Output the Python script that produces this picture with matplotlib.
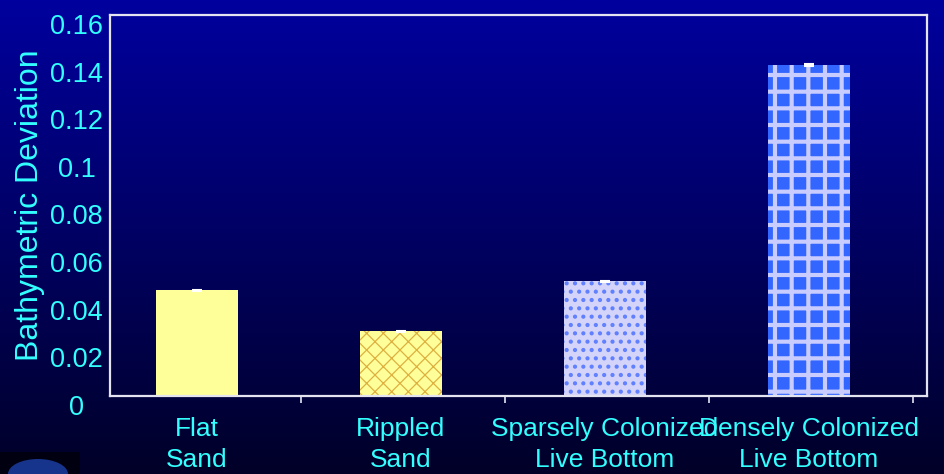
import numpy as np
import matplotlib
matplotlib.use("Agg")
import matplotlib.pyplot as plt
import matplotlib.transforms as mtransforms
from matplotlib.patches import Rectangle, Ellipse

categories = ["Flat\nSand", "Rippled\nSand", "Sparsely Colonized\nLive Bottom", "Densely Colonized\nLive Bottom"]
values = [0.0444, 0.0272, 0.0482, 0.1390]
errors = [0.0003, 0.0003, 0.0003, 0.0003]
yticks = [0, 0.02, 0.04, 0.06, 0.08, 0.1, 0.12, 0.14, 0.16]
ytick_labels = ["0", "0.02", "0.04", "0.06", "0.08", "0.1", "0.12", "0.14", "0.16"]

faces = ["#FFFF99", "#FFFF99", "#D4D4FA", "#3366FF"]
hatches = [None, "xx", "..", "+"]
hatch_cols = [None, "#DDB040", "#6080FF", "#C8CCFF"]
hatch_lws = [1.0, 0.9, 1.8, 3.0]

plt.rcParams['font.family'] = ['Liberation Sans', 'DejaVu Sans']
text_col = "#33FFFF"

W, H = 944, 474
fig = plt.figure(figsize=(W / 100, H / 100), dpi=100)

# background gradient
bg = fig.add_axes([0, 0, 1, 1], zorder=-10)
grad = np.linspace(0, 1, 256).reshape(-1, 1)
top = np.array([0, 0, 158]) / 255
bot = np.array([0, 0, 40]) / 255
img = top[None, None, :] * (1 - grad[:, :, None]) + bot[None, None, :] * grad[:, :, None]
bg.imshow(img, aspect='auto', extent=[0, 1, 0, 1])
bg.set_axis_off()

# small logo bottom-left
fig.patches.append(Rectangle((0, 0), 80 / W, 22 / H, transform=fig.transFigure,
                             facecolor="#000010", edgecolor='none', zorder=-5))
fig.patches.append(Ellipse((38 / W, 0), 60 / W, 30 / H, transform=fig.transFigure,
                           facecolor="#1A3A9A", edgecolor='none', zorder=-4, alpha=0.9))

ax = fig.add_axes([110 / W, (H - 396) / H, (927 - 110) / W, (396 - 15) / H])
ax.set_facecolor('none')

x = np.arange(len(categories))
for i in range(len(categories)):
    if hatches[i]:
        plt.rcParams['hatch.linewidth'] = hatch_lws[i]
        kw = dict(hatch=hatches[i], edgecolor=hatch_cols[i], linewidth=0)
    else:
        kw = dict(edgecolor='none', linewidth=0)
    bars = ax.bar(x[i], values[i], width=0.40, color=faces[i], zorder=2, **kw)
    for b in bars:
        if hasattr(b, "set_hatch_linewidth"):
            b.set_hatch_linewidth(hatch_lws[i])

ax.errorbar(x, values, yerr=errors, fmt='none', ecolor='white', elinewidth=1,
            capsize=3.6, capthick=1.5, zorder=3)

ax.set_xlim(-0.426, 3.578)
ax.set_ylim(0, 0.16)

for s in ax.spines.values():
    s.set_color("#E4E4F0")
    s.set_linewidth(1.6)

ax.set_yticks(yticks)
ax.set_yticklabels(ytick_labels)
ax.tick_params(axis='y', length=0, pad=24, labelsize=19.5, labelcolor=text_col)
offset = mtransforms.ScaledTranslation(0, -9 / 100, fig.dpi_scale_trans)
for lab in ax.get_yticklabels():
    lab.set_horizontalalignment('center')
    lab.set_transform(lab.get_transform() + offset)

ax.set_xticks(x)
ax.set_xticklabels(categories, linespacing=1.36)
ax.tick_params(axis='x', which='major', length=0, pad=15, labelsize=19, labelcolor=text_col)
ax.set_xticks(list(x + 0.51), minor=True)
ax.tick_params(axis='x', which='minor', length=5, width=1.2, color="#E4E4F0", direction='out')

ax.set_ylabel("Bathymetric Deviation", fontsize=23, color=text_col)
ax.yaxis.set_label_coords(-0.079, 0.5)

fig.savefig("out.png", dpi=100)
